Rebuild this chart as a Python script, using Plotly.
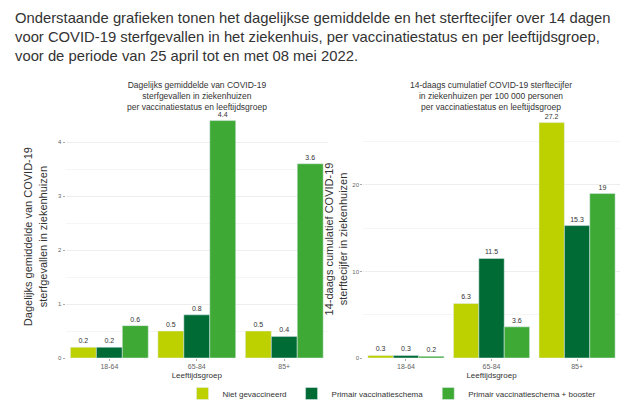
import plotly.graph_objects as go

groups = ["18-64", "65-84", "85+"]
series = ["Niet gevaccineerd", "Primair vaccinatieschema", "Primair vaccinatieschema + booster"]
colors = ["#bdd100", "#006b35", "#3ea935"]
daily = [[0.2, 0.5, 0.5], [0.2, 0.8, 0.4], [0.6, 4.4, 3.6]]
cumul = [[0.3, 6.3, 27.2], [0.3, 11.5, 15.3], [0.2, 3.6, 19]]

fig = go.Figure()
for i, s in enumerate(series):
    fig.add_bar(x=groups, y=daily[i], name=s, marker_color=colors[i], text=[str(v) for v in daily[i]],
                textposition="outside", textfont=dict(size=7, color="#333"), cliponaxis=False,
                xaxis="x", yaxis="y")
for i, s in enumerate(series):
    fig.add_bar(x=groups, y=cumul[i], name=s, marker_color=colors[i], text=[str(v) for v in cumul[i]],
                textposition="outside", textfont=dict(size=7, color="#333"), cliponaxis=False,
                xaxis="x2", yaxis="y2", showlegend=False)

ax = dict(showgrid=False, tickfont=dict(size=7, color="#666"), ticks="outside", ticklen=2, tickcolor="#aaa", zeroline=False)
ay = dict(showgrid=True, gridcolor="#eeeeee", tickfont=dict(size=6, color="#666"), ticks="outside", ticklen=2, tickcolor="#aaa", zeroline=False)
fig.update_layout(
    width=640, height=403, margin=dict(l=0, r=0, t=0, b=0),
    paper_bgcolor="white", plot_bgcolor="white", barmode="group", bargap=0.11, bargroupgap=0,
    font=dict(family="Liberation Sans, Arial", color="#333"),
    xaxis=dict(ax, domain=[0.09, 0.5], title=dict(text="Leeftijdsgroep", font=dict(size=8), standoff=2)),
    yaxis=dict(ay, domain=[0.125, 0.732], range=[0, 4.5], tickvals=[0, 1, 2, 3, 4], minor=dict(showgrid=True, gridcolor="#f5f5f5", dtick=0.5),
               title=dict(text="Dagelijks gemiddelde van COVID-19<br>sterfgevallen in ziekenhuizen", font=dict(size=11), standoff=8)),
    xaxis2=dict(ax, domain=[0.555, 0.956], anchor="y2", title=dict(text="Leeftijdsgroep", font=dict(size=8), standoff=2)),
    yaxis2=dict(ay, domain=[0.125, 0.72], anchor="x2", range=[0, 27.5], tickvals=[0, 10, 20], minor=dict(showgrid=True, gridcolor="#f5f5f5", dtick=5),
                title=dict(text="14-daags cumulatief COVID-19<br>sterftecijfer in ziekenhuizen", font=dict(size=11), standoff=2)),
    legend=dict(orientation="h", x=0.6, xanchor="center", y=0.0, yanchor="bottom", font=dict(size=8), itemwidth=30,
                traceorder="normal", tracegroupgap=0, entrywidth=0),
    annotations=[
        dict(text="Onderstaande grafieken tonen het dagelijkse gemiddelde en het sterftecijfer over 14 dagen<br>voor COVID-19 sterfgevallen in het ziekenhuis, per vaccinatiestatus en per leeftijdsgroep,<br>voor de periode van 25 april tot en met 08 mei 2022.",
             xref="paper", yref="paper", x=0.008, y=1.0, xanchor="left", yanchor="top", align="left", showarrow=False,
             font=dict(size=14.8, color="#333")),
        dict(text="Dagelijks gemiddelde van COVID-19<br>sterfgevallen in ziekenhuizen<br>per vaccinatiestatus en leeftijdsgroep",
             xref="paper", yref="paper", x=0.295, y=0.825, xanchor="center", yanchor="top", showarrow=False, font=dict(size=8.5)),
        dict(text="14-daags cumulatief COVID-19 sterftecijfer<br>in ziekenhuizen per 100 000 personen<br>per vaccinatiestatus en leeftijdsgroep",
             xref="paper", yref="paper", x=0.755, y=0.825, xanchor="center", yanchor="top", showarrow=False, font=dict(size=8.5)),
    ],
)
fig.write_html("out.html")
